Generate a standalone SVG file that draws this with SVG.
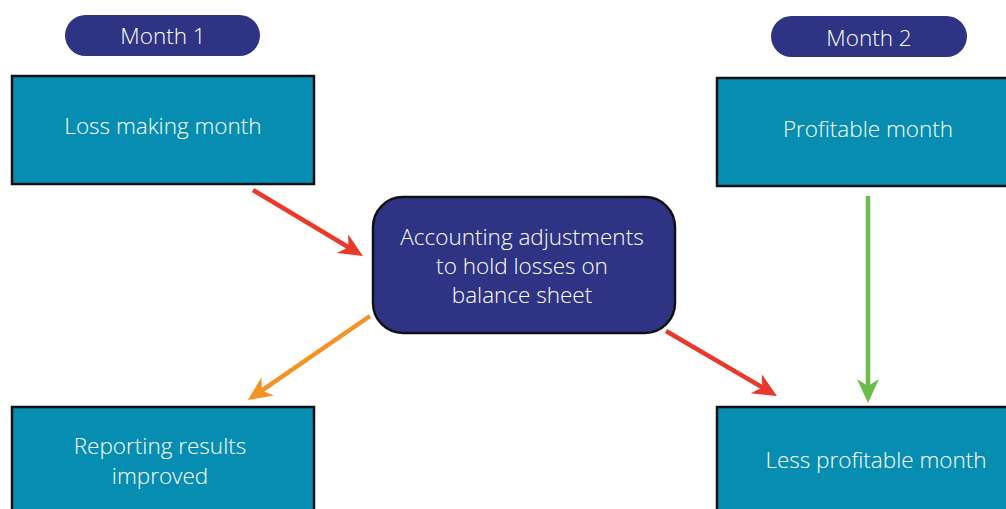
<svg xmlns="http://www.w3.org/2000/svg" width="1006" height="509" viewBox="0 0 1006 509">
  <style>
    .pill { fill: #2e3383; }
    .box { fill: #078db1; stroke: #111; stroke-width: 2.5; }
    .hub { fill: #2e3383; stroke: #111; stroke-width: 2.5; }
    .lbl { font-family: "Open Sans", "Noto Sans", sans-serif; font-size: 22.5px; font-weight: 300; fill: #ffffff; text-anchor: middle; }
    .conn { fill: none; stroke-width: 4.5; stroke-linecap: butt; }
  </style>
  <defs>
    <!-- barbed arrowheads; the tip sits 14px past the end of the shaft -->
    <marker id="headRed" markerUnits="userSpaceOnUse" viewBox="-26 -13 28 26" refX="-14" refY="0" markerWidth="28" markerHeight="26" orient="auto">
      <path d="M0,0 L-24,-11 L-17,0 L-24,11 Z" fill="#e8392a"/>
    </marker>
    <marker id="headOrange" markerUnits="userSpaceOnUse" viewBox="-26 -13 28 26" refX="-14" refY="0" markerWidth="28" markerHeight="26" orient="auto">
      <path d="M0,0 L-24,-11 L-17,0 L-24,11 Z" fill="#f39325"/>
    </marker>
    <marker id="headGreen" markerUnits="userSpaceOnUse" viewBox="-26 -13 28 26" refX="-14" refY="0" markerWidth="28" markerHeight="26" orient="auto">
      <path d="M0,0 L-24,-11 L-17,0 L-24,11 Z" fill="#6abd4b"/>
    </marker>
  </defs>

  <rect width="1006" height="509" fill="#ffffff"/>

  <g id="month1">
    <rect class="pill" x="65" y="15" width="195" height="41" rx="20.5"/>
    <text class="lbl" x="163" y="44">Month 1</text>
  </g>
  <g id="month2">
    <rect class="pill" x="771" y="16" width="196" height="41" rx="20.5"/>
    <text class="lbl" x="869" y="46">Month 2</text>
  </g>

  <g id="loss-making">
    <rect class="box" x="12" y="76" width="302" height="108"/>
    <text class="lbl" x="163" y="134">Loss making month</text>
  </g>
  <g id="profitable">
    <rect class="box" x="717" y="78" width="300" height="108"/>
    <text class="lbl" x="868" y="137">Profitable month</text>
  </g>

  <g id="adjustments">
    <rect class="hub" x="373" y="197" width="302" height="136" rx="30"/>
    <text class="lbl" x="522" y="245">Accounting adjustments</text>
    <text class="lbl" x="522" y="274">to hold losses on</text>
    <text class="lbl" x="522" y="303">balance sheet</text>
  </g>

  <g id="reporting">
    <rect class="box" x="12" y="407" width="302" height="115"/>
    <text class="lbl" x="160" y="454">Reporting results</text>
    <text class="lbl" x="160" y="484">improved</text>
  </g>
  <g id="less-profitable">
    <rect class="box" x="717" y="407" width="300" height="115"/>
    <text class="lbl" x="876" y="468">Less profitable month</text>
  </g>

  <g id="connectors">
    <line class="conn" stroke="#e8392a" x1="253" y1="190" x2="351" y2="248.8" marker-end="url(#headRed)"/>
    <line class="conn" stroke="#f39325" x1="370" y1="316" x2="259.5" y2="392.1" marker-end="url(#headOrange)"/>
    <line class="conn" stroke="#e8392a" x1="666" y1="331" x2="764.9" y2="388.9" marker-end="url(#headRed)"/>
    <line class="conn" stroke="#6abd4b" x1="868" y1="196" x2="868" y2="389" marker-end="url(#headGreen)"/>
  </g>
</svg>
